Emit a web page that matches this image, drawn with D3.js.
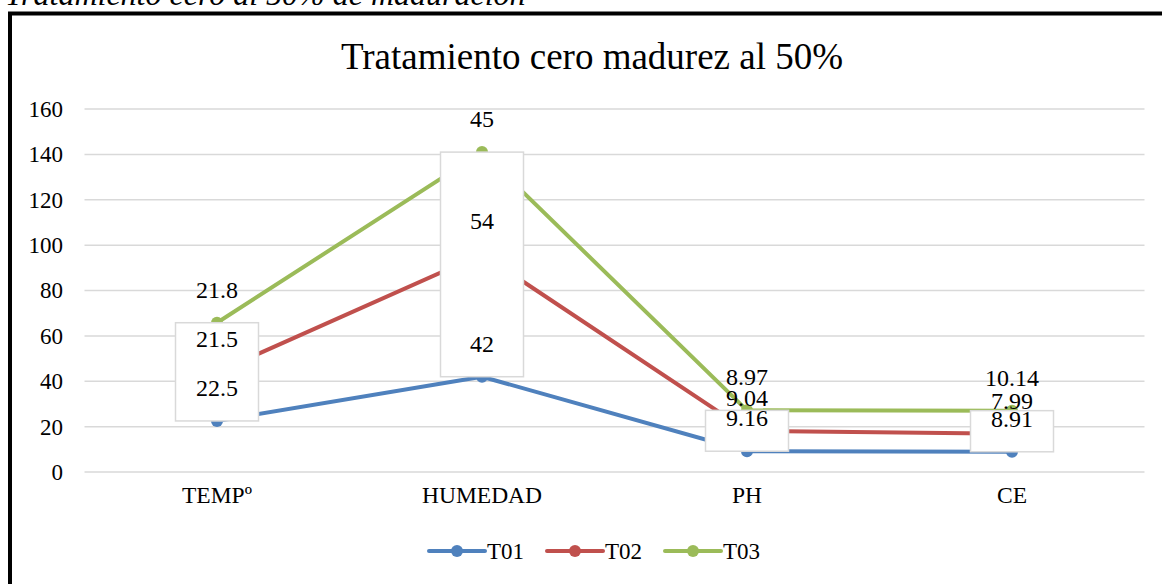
<!DOCTYPE html>
<html><head><meta charset="utf-8">
<script src="https://cdn.jsdelivr.net/npm/d3@7"></script>
<style>body{margin:0;background:#fff;}svg{display:block;}</style>
</head><body>
<script>
const categories = ["TEMPº", "HUMEDAD", "PH", "CE"];
const seriesNames = ["T01", "T02", "T03"];
const T01 = [22.5, 42, 9.16, 8.91];
const T02 = [21.5, 54, 9.04, 7.99];
const T03 = [21.8, 45, 8.97, 10.14];
const yTicks = [0, 20, 40, 60, 80, 100, 120, 140, 160];
const colors = ["#4F81BD", "#C0504D", "#9BBB59"];
const captionText = "Tratamiento cero al 50% de maduración";
const titleText = "Tratamiento cero madurez al 50%";

const W = 1162, H = 584;
const font = "'Liberation Serif','Times New Roman',serif";
const svg = d3.select("body").append("svg").attr("width", W).attr("height", H);

// caption (cut off at top)
svg.append("text").attr("x", 5).attr("y", 5).attr("font-family", font)
  .attr("font-style", "italic").attr("font-size", 32).attr("fill", "#000").text(captionText);

// chart frame
svg.append("rect").attr("x", 10).attr("y", 13.5).attr("width", W + 20).attr("height", H + 20)
  .attr("fill", "#fff").attr("stroke", "#000").attr("stroke-width", 4);

// title
svg.append("text").attr("x", 592).attr("y", 69).attr("text-anchor", "middle")
  .attr("font-family", font).attr("font-size", 37).attr("fill", "#000").text(titleText);

const x = d3.scaleBand().domain(categories).range([84.5, 1144.5]);
const y = d3.scaleLinear().domain([0, 160]).range([472, 109]);

// gridlines
svg.append("g").selectAll("line").data(yTicks).join("line")
  .attr("x1", 84.5).attr("x2", 1144.5).attr("y1", d => y(d)).attr("y2", d => y(d))
  .attr("stroke", "#D9D9D9").attr("stroke-width", 1.5);

// y axis labels
const yAxis = d3.axisLeft(y).tickValues(yTicks).tickSize(0).tickPadding(0);
const gy = svg.append("g").attr("transform", "translate(63,0)").call(yAxis);
gy.select(".domain").remove();
gy.selectAll("text").attr("font-family", font).attr("font-size", 23).attr("fill", "#000");

// x axis labels
const xAxis = d3.axisBottom(x).tickSize(0).tickPadding(0);
const gx = svg.append("g").attr("transform", "translate(0,486)").call(xAxis);
gx.select(".domain").remove();
gx.selectAll("text").attr("font-family", font).attr("font-size", 23.5).attr("fill", "#000");

// stacked data
const rows = categories.map((c, i) => ({cat: c, T01: T01[i], T02: T02[i], T03: T03[i]}));
const stacked = d3.stack().keys(seriesNames)(rows);
const cx = c => x(c) + x.bandwidth() / 2;

const line = d3.line().x(d => cx(d.data.cat)).y(d => y(d[1]));
stacked.forEach((s, si) => {
  svg.append("path").datum(s).attr("d", line).attr("fill", "none")
    .attr("stroke", colors[si]).attr("stroke-width", 4).attr("stroke-linejoin", "round").attr("stroke-linecap", "round");
  svg.append("g").selectAll("circle").data(s).join("circle")
    .attr("cx", d => cx(d.data.cat)).attr("cy", d => y(d[1])).attr("r", 6).attr("fill", colors[si]);
});

// up/down bars (first series to last series)
const first = stacked[0], last = stacked[stacked.length - 1];
svg.append("g").selectAll("rect").data(categories).join("rect")
  .attr("x", (c) => cx(c) - 41.5).attr("width", 83)
  .attr("y", (c, i) => Math.min(y(first[i][1]), y(last[i][1])))
  .attr("height", (c, i) => Math.abs(y(first[i][1]) - y(last[i][1])))
  .attr("fill", "#fff").attr("stroke", "#D9D9D9").attr("stroke-width", 1.5);

// data labels (above)
stacked.forEach((s, si) => {
  svg.append("g").selectAll("text").data(s).join("text")
    .attr("x", d => cx(d.data.cat)).attr("y", d => y(d[1]) - 25)
    .attr("text-anchor", "middle").attr("font-family", font).attr("font-size", 24).attr("fill", "#000")
    .text(d => d.data[s.key]);
});

// legend
const lx = [429, 547, 665];
const lg = svg.append("g");
seriesNames.forEach((n, i) => {
  lg.append("line").attr("x1", lx[i]).attr("x2", lx[i] + 56).attr("y1", 551).attr("y2", 551)
    .attr("stroke", colors[i]).attr("stroke-width", 4).attr("stroke-linecap", "round");
  lg.append("circle").attr("cx", lx[i] + 28).attr("cy", 551).attr("r", 6).attr("fill", colors[i]);
  lg.append("text").attr("x", lx[i] + 58).attr("y", 559).attr("font-family", font).attr("font-size", 23)
    .attr("fill", "#000").text(n);
});
</script>
</body></html>
